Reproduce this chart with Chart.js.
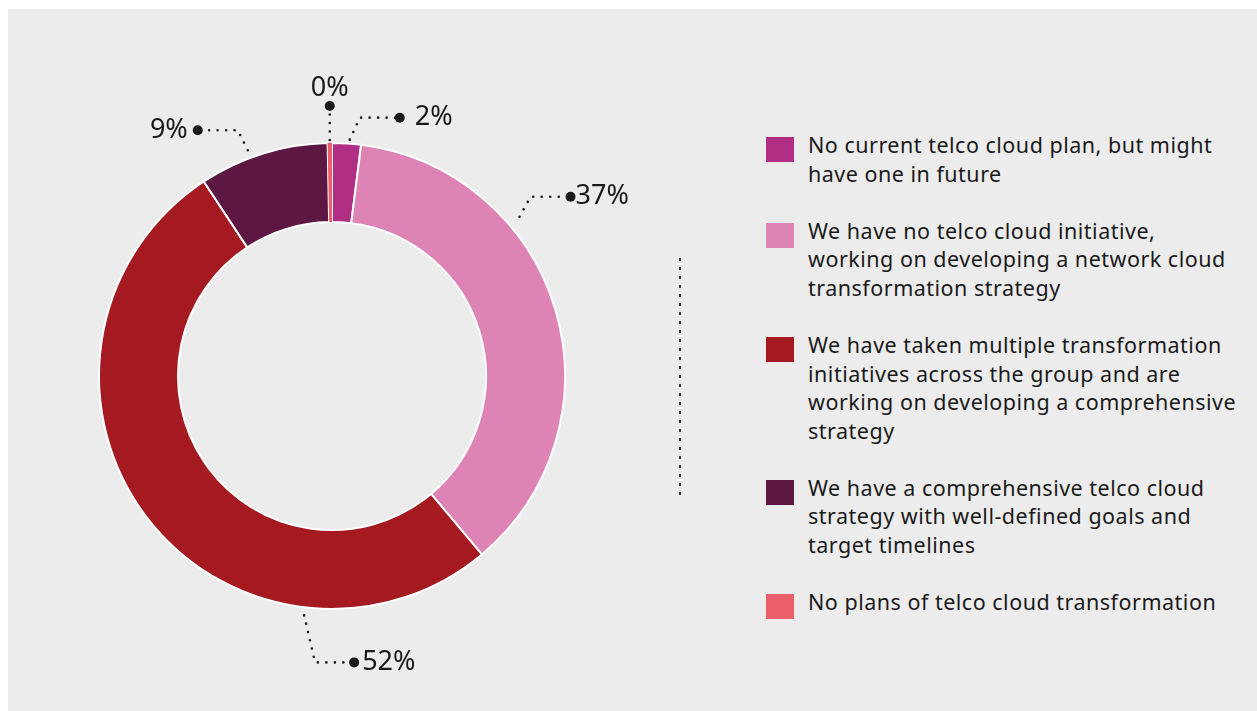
<!DOCTYPE html>
<html>
<head>
<meta charset="utf-8">
<script src="https://cdn.jsdelivr.net/npm/chart.js@4"></script>
<style>
  body { margin: 0; background: #ffffff; font-family: 'Noto Sans', sans-serif; }
  #panel { position: absolute; left: 8px; top: 9px; right: 0; bottom: 0; background: #ececec; }
  #chartBox { position: absolute; left: 8px; top: 9px; width: 700px; height: 702px; }
  #legend { position: absolute; left: 766px; top: 131px; color: #1a1a1a; font-size: 21.5px; letter-spacing: 0.5px; line-height: 28.6px; }
  .item { display: flex; align-items: flex-start; margin-bottom: 28.5px; }
  .swatch { width: 28px; height: 25px; margin-top: 6px; margin-right: 14px; flex: none; }
</style>
</head>
<body>
<div id="panel"></div>
<div id="chartBox"><canvas id="telcoDonut" width="700" height="702"></canvas></div>
<div id="legend"></div>
<script>
// Survey answers, in drawing order (clockwise from 12 o'clock)
const categories = [
    ['No current telco cloud plan, but might', 'have one in future'],
    ['We have no telco cloud initiative,', 'working on developing a network cloud', 'transformation strategy'],
    ['We have taken multiple transformation', 'initiatives across the group and are', 'working on developing a comprehensive', 'strategy'],
    ['We have a comprehensive telco cloud', 'strategy with well-defined goals and', 'target timelines'],
    ['No plans of telco cloud transformation']
];
const shares = [2, 37, 52, 9, 0.3];
const sliceColors = ['#b02e84', '#de83b5', '#a51920', '#5c1742', '#ec5f6b'];

// leader line layout per slice (where on the slice it starts, elbow offset, horizontal run)
const callouts = [
    { frac: 0.6, gap: 4, dx: 10, dy: -22, run: 40, textGap: 10 },
    { frac: 0.32, gap: 13, dx: 11, dy: -20, run: 40, textGap: 0 },
    { frac: 0.25, gap: 8, dx: 11, dy: 47, run: 39, textGap: 3 },
    { frac: 0.4, gap: 8, dx: -10, dy: -20, run: -40, textGap: 5 },
    { frac: 0.5, gap: 3, dx: 0, dy: -34, run: 0, textGap: 0 }
];

// HTML legend built from the same arrays
const legendEl = document.getElementById('legend');
categories.forEach((lines, i) => {
    const item = document.createElement('div');
    item.className = 'item';
    const sw = document.createElement('div');
    sw.className = 'swatch';
    sw.style.background = sliceColors[i];
    const txt = document.createElement('div');
    txt.innerHTML = lines.join('<br>');
    item.appendChild(sw);
    item.appendChild(txt);
    legendEl.appendChild(item);
});

const calloutPlugin = {
    id: 'callouts',
    afterDraw(chart) {
        const ctx = chart.ctx;
        const meta = chart.getDatasetMeta(0);
        ctx.save();
        meta.data.forEach((arc, i) => {
            const c = callouts[i];
            const p = arc.getProps(['x', 'y', 'startAngle', 'endAngle', 'outerRadius'], true);
            const a = p.startAngle + (p.endAngle - p.startAngle) * c.frac;
            const r = p.outerRadius + c.gap;
            const x0 = p.x + Math.cos(a) * r;
            const y0 = p.y + Math.sin(a) * r;
            const x1 = x0 + c.dx;
            const y1 = y0 + c.dy;
            const x2 = x1 + c.run;

            ctx.strokeStyle = '#1a1a1a';
            ctx.lineWidth = 2.6;
            ctx.lineCap = 'round';
            ctx.setLineDash([0, 8.5]);
            ctx.beginPath();
            ctx.moveTo(x0, y0);
            ctx.lineTo(x1, y1);
            if (c.run !== 0) ctx.lineTo(x2, y1);
            ctx.stroke();
            ctx.setLineDash([]);

            ctx.fillStyle = '#1a1a1a';
            ctx.beginPath();
            ctx.arc(x2, y1, 5, 0, Math.PI * 2);
            ctx.fill();

            const label = Math.round(shares[i]) + '%';
            ctx.font = '27px "Noto Sans"';
            ctx.textBaseline = 'middle';
            if (c.run > 0) {
                ctx.textAlign = 'left';
                ctx.fillText(label, x2 + 5 + c.textGap, y1);
            } else if (c.run < 0) {
                ctx.textAlign = 'right';
                ctx.fillText(label, x2 - 5 - c.textGap, y1);
            } else {
                ctx.textAlign = 'center';
                ctx.fillText(label, x2, y1 - 18);
            }
        });

        // dotted divider between donut and legend
        ctx.strokeStyle = '#333333';
        ctx.lineWidth = 2;
        ctx.lineCap = 'butt';
        ctx.setLineDash([3, 6]);
        ctx.beginPath();
        ctx.moveTo(672, 249);
        ctx.lineTo(672, 492);
        ctx.stroke();
        ctx.restore();
    }
};

new Chart(document.getElementById('telcoDonut'), {
    type: 'doughnut',
    data: {
        labels: categories.map(l => l.join(' ')),
        datasets: [{
            data: shares,
            backgroundColor: sliceColors,
            borderColor: '#ffffff',
            borderWidth: [2, 2, 2, 2, 0]
        }]
    },
    options: {
        responsive: false,
        animation: false,
        radius: 233,
        cutout: '66.1%',
        layout: { padding: { top: 50, bottom: 18, left: 0, right: 52 } },
        plugins: {
            legend: { display: false },
            tooltip: { enabled: false }
        }
    },
    plugins: [calloutPlugin]
});
</script>
</body>
</html>
